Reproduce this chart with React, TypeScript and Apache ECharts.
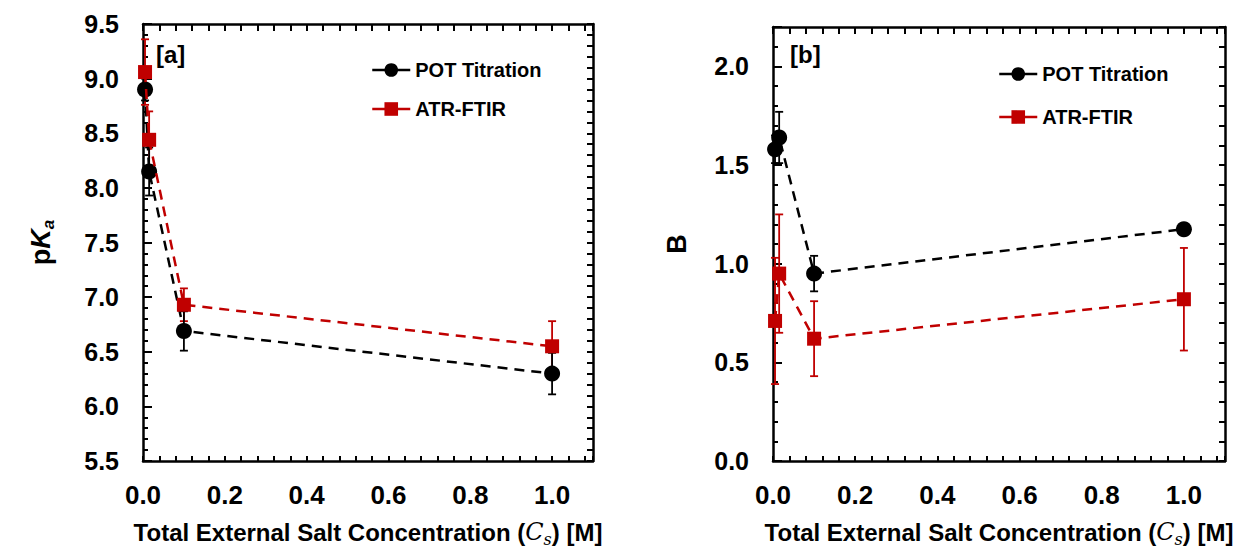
import React, { useEffect, useRef } from 'react';
import * as echarts from 'echarts';

// ---- data ----
const concentrations = [0.005, 0.015, 0.1, 1.0];
const pkaPot = [8.9, 8.15, 6.69, 6.3];
const pkaPotErr = [0.1, 0.22, 0.18, 0.19];
const pkaFtir = [9.06, 8.44, 6.93, 6.55];
const pkaFtirErr = [0.3, 0.26, 0.15, 0.23];
const bPot = [1.58, 1.64, 0.95, 1.175];
const bPotErr = [0.07, 0.13, 0.09, 0.01];
const bFtir = [0.71, 0.95, 0.62, 0.82];
const bFtirErr = [0.32, 0.3, 0.19, 0.26];
const seriesNames = ['POT Titration', 'ATR-FTIR'];
const panelLabels = ['[a]', '[b]'];
const xTitle = 'Total External Salt Concentration ({i|C}{s|s}) [M]';
const yTitleA = '{p|p}{k|K}{a|a}';
const yTitleB = 'B';

const BLACK = '#000000';
const RED = '#C00000';
const FONT = '"Liberation Sans", Arial, sans-serif';

const isMult = (v: number, step: number) => Math.abs(v / step - Math.round(v / step)) < 1e-6;
const fmtX = (v: number) => (isMult(v, 0.2) && v <= 1.0001 ? v.toFixed(1) : '');
const fmtY = (v: number) => (isMult(v, 0.5) ? v.toFixed(1) : '');

const axisLineStyle = { color: BLACK, width: 2.5 };
const tickLineStyle = { color: BLACK, width: 2 };

function xAxesFor(gi: number) {
  const base = {
    type: 'value',
    gridIndex: gi,
    min: 0,
    max: 1.1,
    interval: 0.04,
    splitLine: { show: false },
  };
  return [
    {
      ...base,
      position: 'bottom',
      axisLine: { show: true, onZero: false, lineStyle: axisLineStyle },
      axisTick: { show: true, inside: true, length: 5, lineStyle: tickLineStyle },
      axisLabel: {
        formatter: fmtX,
        margin: 21,
        fontSize: 26,
        fontWeight: 'bold',
        color: BLACK,
        fontFamily: FONT,
      },
      name: xTitle,
      nameLocation: 'middle',
      nameGap: 56,
      nameTextStyle: {
        fontSize: 24,
        fontWeight: 'bold',
        color: BLACK,
        fontFamily: FONT,
        lineHeight: 30,
        rich: {
          i: { fontFamily: '"DejaVu Serif", serif', fontStyle: 'italic', fontWeight: 'normal', fontSize: 24, lineHeight: 30, color: BLACK },
          s: { fontFamily: '"DejaVu Serif", serif', fontStyle: 'italic', fontWeight: 'normal', fontSize: 16, lineHeight: 14, verticalAlign: 'bottom', color: BLACK },
        },
      },
    },
    {
      ...base,
      position: 'top',
      axisLine: { show: true, onZero: false, lineStyle: axisLineStyle },
      axisTick: { show: true, inside: true, length: 7, lineStyle: tickLineStyle },
      axisLabel: { show: false },
    },
  ];
}

function yAxesFor(gi: number, min: number, max: number, name: string, nameGap: number, rich: any) {
  const base = { type: 'value', gridIndex: gi, min, max, splitLine: { show: false } };
  return [
    {
      ...base,
      position: 'left',
      interval: 0.1,
      axisLine: { show: true, onZero: false, lineStyle: axisLineStyle },
      axisTick: { show: true, inside: true, length: 5, lineStyle: tickLineStyle },
      axisLabel: {
        formatter: fmtY,
        margin: 24,
        fontSize: 25,
        fontWeight: 'bold',
        color: BLACK,
        fontFamily: FONT,
      },
      name,
      nameLocation: 'middle',
      nameGap,
      nameRotate: 90,
      nameTextStyle: {
        fontSize: 27,
        fontWeight: 'bold',
        color: BLACK,
        fontFamily: FONT,
        lineHeight: 32,
        rich,
      },
    },
    {
      ...base,
      position: 'left',
      interval: 0.5,
      axisLine: { show: false, onZero: false },
      axisTick: { show: true, inside: true, length: 9, lineStyle: tickLineStyle },
      axisLabel: { show: false },
    },
    {
      ...base,
      position: 'right',
      interval: 0.1,
      axisLine: { show: true, onZero: false, lineStyle: axisLineStyle },
      axisTick: { show: true, inside: true, length: 6, lineStyle: tickLineStyle },
      axisLabel: { show: false },
    },
  ];
}

function lineSeries(name: string, xi: number, yi: number, ys: number[], color: string, symbol: string, size: number, z: number) {
  return {
    type: 'line',
    name,
    xAxisIndex: xi,
    yAxisIndex: yi,
    data: concentrations.map((c, i) => [c, ys[i]]),
    symbol,
    symbolSize: size,
    clip: false,
    z,
    lineStyle: { color, width: 2.5, type: [10, 7] },
    itemStyle: { color, borderWidth: 0 },
  };
}

function errSeries(xi: number, yi: number, ys: number[], errs: number[], color: string, z: number) {
  return {
    type: 'custom',
    xAxisIndex: xi,
    yAxisIndex: yi,
    z,
    clip: false,
    encode: { x: 0, y: 1 },
    data: concentrations.map((c, i) => [c, ys[i], errs[i]]),
    renderItem: (params: any, api: any) => {
      const x = api.value(0);
      const y = api.value(1);
      const e = api.value(2);
      const top = api.coord([x, y + e]);
      const bot = api.coord([x, y - e]);
      const half = 4;
      const style = { stroke: color, lineWidth: 1.8 };
      return {
        type: 'group',
        children: [
          { type: 'line', shape: { x1: top[0], y1: top[1], x2: bot[0], y2: bot[1] }, style },
          { type: 'line', shape: { x1: top[0] - half, y1: top[1], x2: top[0] + half, y2: top[1] }, style },
          { type: 'line', shape: { x1: bot[0] - half, y1: bot[1], x2: bot[0] + half, y2: bot[1] }, style },
        ],
      };
    },
  };
}

function legendFor(left: number, top: number, gap: number) {
  return {
    data: seriesNames,
    orient: 'vertical',
    left,
    top,
    itemWidth: 38,
    itemHeight: 17,
    itemGap: gap,
    selectedMode: false,
    lineStyle: { type: 'solid', width: 2.5 },
    textStyle: { fontSize: 20, fontWeight: 'bold', color: BLACK, fontFamily: FONT },
  };
}

export default function App() {
  const ref = useRef<HTMLDivElement>(null);
  useEffect(() => {
    if (!ref.current) return;
    const chart = echarts.init(ref.current, undefined, { renderer: 'svg' });
    const richA = {
      p: { fontSize: 27, fontWeight: 'bold', fontFamily: FONT, lineHeight: 32, color: BLACK },
      k: { fontSize: 27, fontWeight: 'bold', fontStyle: 'italic', fontFamily: FONT, lineHeight: 32, color: BLACK },
      a: { fontSize: 17, fontWeight: 'bold', fontStyle: 'italic', fontFamily: FONT, lineHeight: 16, verticalAlign: 'bottom', color: BLACK },
    };
    const option: any = {
      animation: false,
      backgroundColor: '#ffffff',
      grid: [
        { left: 143, top: 24, width: 450, height: 439 },
        { left: 773, top: 27, width: 452, height: 438 },
      ],
      xAxis: [...xAxesFor(0), ...xAxesFor(1)],
      yAxis: [
        ...yAxesFor(0, 5.5, 9.5, yTitleA, 86, richA),
        ...yAxesFor(1, 0, 2.2, yTitleB, 80, {}),
      ],
      legend: [legendFor(366, 55, 19), legendFor(993, 59, 23)],
      graphic: [
        { type: 'text', left: 156, top: 42, style: { text: panelLabels[0], font: `bold 24px ${FONT}`, fill: BLACK } },
        { type: 'text', left: 790, top: 42, style: { text: panelLabels[1], font: `bold 24px ${FONT}`, fill: BLACK } },
      ],
      series: [
        errSeries(0, 0, pkaFtir, pkaFtirErr, RED, 2),
        errSeries(0, 0, pkaPot, pkaPotErr, BLACK, 3),
        lineSeries(seriesNames[0], 0, 0, pkaPot, BLACK, 'circle', 16, 4),
        lineSeries(seriesNames[1], 0, 0, pkaFtir, RED, 'rect', 14, 5),
        errSeries(2, 3, bFtir, bFtirErr, RED, 2),
        errSeries(2, 3, bPot, bPotErr, BLACK, 3),
        lineSeries(seriesNames[0], 2, 3, bPot, BLACK, 'circle', 16, 4),
        lineSeries(seriesNames[1], 2, 3, bFtir, RED, 'rect', 14, 5),
      ],
    };
    chart.setOption(option);
    return () => chart.dispose();
  }, []);
  return (
    <div
      ref={ref}
      style={{ position: 'fixed', left: 0, top: 0, width: 1245, height: 552, background: '#fff' }}
    />
  );
}
